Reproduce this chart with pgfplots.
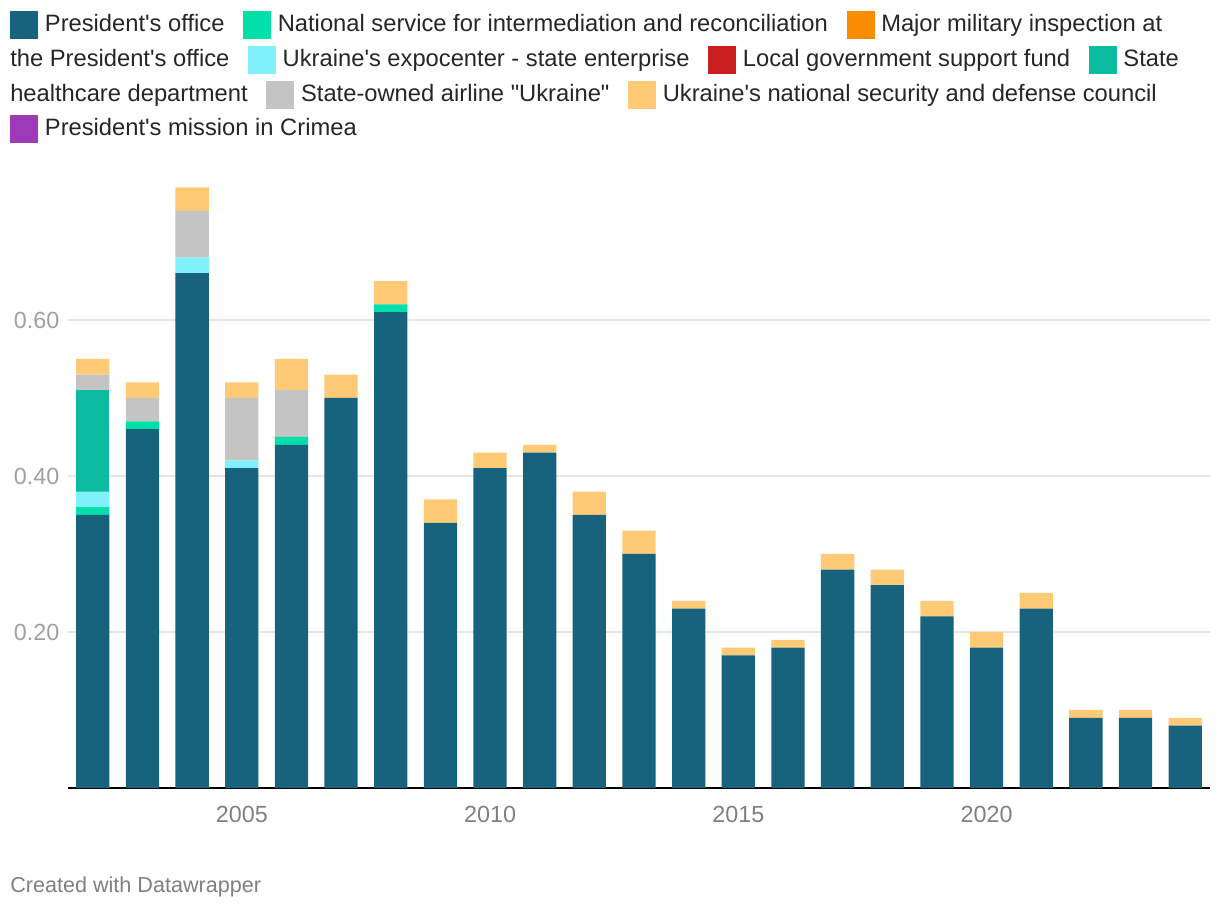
\documentclass[border=0pt]{standalone}
\usepackage{pgfplots}
\usepackage{pgfplotstable}
\pgfplotsset{compat=1.18}
\usepackage{fontspec}
\setmainfont{Liberation Sans}[Ligatures=TeXOff]
\definecolor{cPres}{RGB}{23,98,124}
\definecolor{cNat}{RGB}{2,223,168}
\definecolor{cMil}{RGB}{250,140,0}
\definecolor{cExpo}{RGB}{128,240,250}
\definecolor{cLoc}{RGB}{200,30,30}
\definecolor{cHealth}{RGB}{11,188,160}
\definecolor{cAir}{RGB}{196,196,196}
\definecolor{cNSDC}{RGB}{254,202,118}
\definecolor{cCrim}{RGB}{157,58,183}
\definecolor{cTick}{RGB}{160,160,160}
\definecolor{cXTick}{RGB}{128,128,128}
\definecolor{cGrid}{RGB}{229,229,229}

\pgfplotstableread{
year pres nat mil expo loc health air nsdc crim
2002 0.35 0.01 0 0.02 0 0.13 0.02 0.02 0
2003 0.46 0.01 0 0 0 0 0.03 0.02 0
2004 0.66 0 0 0.02 0 0 0.06 0.03 0
2005 0.41 0 0 0.01 0 0 0.08 0.02 0
2006 0.44 0.01 0 0 0 0 0.06 0.04 0
2007 0.50 0 0 0 0 0 0 0.03 0
2008 0.61 0.01 0 0 0 0 0 0.03 0
2009 0.34 0 0 0 0 0 0 0.03 0
2010 0.41 0 0 0 0 0 0 0.02 0
2011 0.43 0 0 0 0 0 0 0.01 0
2012 0.35 0 0 0 0 0 0 0.03 0
2013 0.30 0 0 0 0 0 0 0.03 0
2014 0.23 0 0 0 0 0 0 0.01 0
2015 0.17 0 0 0 0 0 0 0.01 0
2016 0.18 0 0 0 0 0 0 0.01 0
2017 0.28 0 0 0 0 0 0 0.02 0
2018 0.26 0 0 0 0 0 0 0.02 0
2019 0.22 0 0 0 0 0 0 0.02 0
2020 0.18 0 0 0 0 0 0 0.02 0
2021 0.23 0 0 0 0 0 0 0.02 0
2022 0.09 0 0 0 0 0 0 0.01 0
2023 0.09 0 0 0 0 0 0 0.01 0
2024 0.08 0 0 0 0 0 0 0.01 0
}\datatable

\newcommand{\sw}[1]{\textcolor{#1}{\rule[-5.5pt]{21pt}{21pt}}\hspace{5pt}}
\newcommand{\gap}{\hspace{14pt}}

\begin{document}
\begin{tikzpicture}[x=0.75pt,y=0.75pt]
\useasboundingbox (0,0) rectangle (1220,910);
\begin{axis}[
  at={(51pt,91.5pt)}, anchor=south west,
  scale only axis,
  width=856.5pt, height=468pt,
  xmin=2001.5, xmax=2024.5,
  ymin=0, ymax=0.8,
  ybar stacked, bar width=0.67, bar shift=0pt,
  separate axis lines,
  axis x line*=bottom, axis y line*=left,
  x axis line style={black, line width=1.5pt, -},
  y axis line style={draw=none},
  major tick length=0pt,
  xtick={2005,2010,2015,2020},
  ytick={0.2,0.4,0.6},
  ymajorgrids,
  grid style={cGrid, line width=1.1pt},
  xticklabel style={font=\fontsize{17.5}{20}\selectfont, text=cXTick, yshift=-10pt},
  yticklabel style={font=\fontsize{17.5}{20}\selectfont, text=cTick, xshift=-3pt},
  x tick label style={/pgf/number format/1000 sep={}},
  y tick label style={/pgf/number format/.cd, fixed, fixed zerofill, precision=2},
  /pgf/number format/assume math mode=true,
  every axis plot/.append style={draw=none},
]
\addplot[fill=cPres] table[x=year,y=pres] {\datatable};
\addplot[fill=cNat] table[x=year,y=nat] {\datatable};
\addplot[fill=cMil] table[x=year,y=mil] {\datatable};
\addplot[fill=cExpo] table[x=year,y=expo] {\datatable};
\addplot[fill=cLoc] table[x=year,y=loc] {\datatable};
\addplot[fill=cHealth] table[x=year,y=health] {\datatable};
\addplot[fill=cAir] table[x=year,y=air] {\datatable};
\addplot[fill=cNSDC] table[x=year,y=nsdc] {\datatable};
\addplot[fill=cCrim] table[x=year,y=crim] {\datatable};
\end{axis}
\begin{scope}[every node/.style={anchor=base west, inner sep=0pt, font=\fontsize{17.8}{21}\selectfont, text=black!85}]
\node at (10,878) {\sw{cPres}President's office\gap\sw{cNat}National service for intermediation and reconciliation\gap\sw{cMil}Major military inspection at};
\node at (10,843) {the President's office\gap\sw{cExpo}Ukraine's expocenter - state enterprise\gap\sw{cLoc}Local government support fund\gap\sw{cHealth}State};
\node at (10,808.5) {healthcare department\gap\sw{cAir}State-owned airline "Ukraine"\gap\sw{cNSDC}Ukraine's national security and defense council};
\node at (10,774) {\sw{cCrim}President's mission in Crimea};
\node[text=cXTick, font=\fontsize{16.2}{19}\selectfont] at (10,18) {Created with Datawrapper};
\end{scope}
\end{tikzpicture}
\end{document}
